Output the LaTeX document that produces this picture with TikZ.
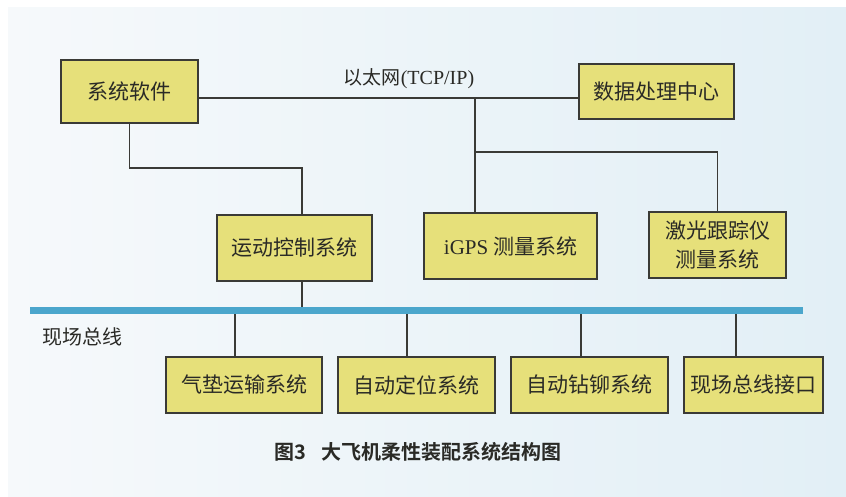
\documentclass[tikz,border=0pt]{standalone}
\usepackage{fontspec}
\setmainfont{Liberation Serif}
\newfontfamily\lat{Liberation Serif}
\newfontfamily\cjk{Noto Sans CJK SC}
\newfontfamily\cjkb{Noto Sans CJK SC Bold}
\definecolor{boxfill}{HTML}{E6E07A}
\definecolor{boxline}{HTML}{3A3A36}
\definecolor{txt}{HTML}{2A2A26}
\definecolor{bus}{HTML}{4BA6CC}
\begin{document}
\begin{tikzpicture}[x=1pt,y=-1pt,
  sysbox/.style={draw=boxline,line width=1.9pt,fill=boxfill,inner sep=0pt,
    text=txt,font=\cjk\fontsize{21}{26}\selectfont,align=center},
  wire/.style={draw=boxline,line width=1.3pt},
  lbl/.style={text=txt,inner sep=0pt}]
\useasboundingbox (0,0) rectangle (846,497);
\fill[white] (0,0) rectangle (846,497);
\shade[left color={rgb,255:red,246;green,249;blue,251},right color={rgb,255:red,226;green,239;blue,246}] (8,8) rectangle (846,497);
% top row
\node[sysbox,minimum width=137pt,minimum height=63pt] (sys) at (129.5,91.5) {系统软件};
\node[sysbox,minimum width=155pt,minimum height=55pt] (dpc) at (656.5,91.5) {数据处理中心};
\node[lbl,font=\cjk\fontsize{19}{22}\selectfont] (eth) at (409,79) {以太网{\lat\fontsize{20}{22}\selectfont(TCP/IP)}};
% middle row
\node[sysbox,minimum width=155pt,minimum height=66pt] (mc) at (294.5,248) {运动控制系统};
\node[sysbox,minimum width=173pt,minimum height=66pt] (igps) at (510.5,246) {{\lat iGPS} 测量系统};
\node[sysbox,minimum width=137pt,minimum height=66pt,font=\cjk\fontsize{21}{29}\selectfont] (las) at (717.5,245) {激光跟踪仪\\测量系统};
% bottom row
\node[sysbox,minimum width=156pt,minimum height=56pt] (b1) at (244,385) {气垫运输系统};
\node[sysbox,minimum width=157pt,minimum height=56pt] (b2) at (416.5,385) {自动定位系统};
\node[sysbox,minimum width=157pt,minimum height=56pt] (b3) at (589.5,385) {自动钻铆系统};
\node[sysbox,minimum width=139pt,minimum height=56pt] (b4) at (753.5,385) {现场总线接口};
% labels
\node[lbl,font=\cjk\fontsize{20}{22}\selectfont] (fb) at (82,337) {现场总线};
\node[lbl,font=\cjkb\fontsize{20}{22}\selectfont] (cap) at (418,452) {图3\hspace{16pt}大飞机柔性装配系统结构图};
% coordinates
\coordinate (e0) at (0,98);
\coordinate (j1) at (475,98);
\coordinate (j2) at (475,152);
\coordinate (k1) at (302,168);
\coordinate (busL) at (30,310);
\coordinate (busR) at (803,310);
\coordinate (d1) at (235,310);
\coordinate (d2) at (407,310);
\coordinate (d3) at (581,310);
\coordinate (d4) at (736,310);
% ethernet
\draw[wire] (sys.east |- e0) -- (dpc.west |- e0);
\draw[wire] (j1) -- (j1 |- igps.north);
\draw[wire] (j2) -| (las.north);
\draw[wire] (sys.south) |- (k1) -- (k1 |- mc.north);
% field bus
\draw[wire] (k1 |- mc.south) -- (k1 |- busL);
\draw[wire] (d1) -- (d1 |- b1.north);
\draw[wire] (d2) -- (d2 |- b2.north);
\draw[wire] (d3) -- (d3 |- b3.north);
\draw[wire] (d4) -- (d4 |- b4.north);
\draw[bus,line width=7pt] (busL) -- (busR);
\end{tikzpicture}
\end{document}
